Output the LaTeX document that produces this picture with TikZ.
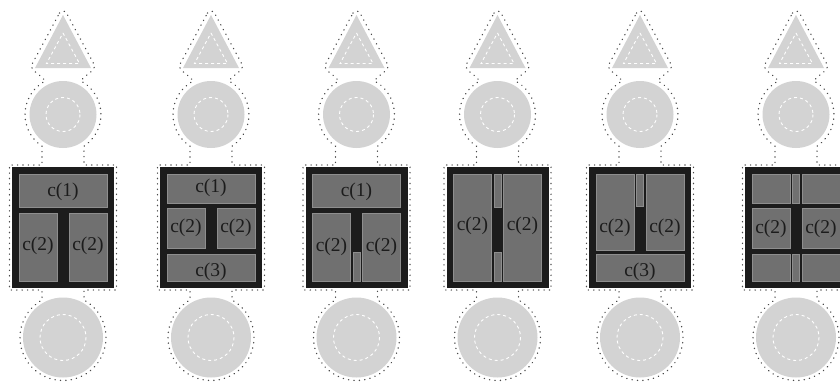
\documentclass[tikz,border=0pt]{standalone}
\usepackage{fontspec}
\setmainfont{Liberation Serif}
\definecolor{shapegray}{HTML}{D3D3D3}
\definecolor{cellgray}{HTML}{707070}
\definecolor{celledge}{HTML}{8E8E8E}
\definecolor{frameblack}{HTML}{1C1C1C}
\definecolor{dotgray}{HTML}{4A4A4A}
\tikzset{
  hull/.style={draw=dotgray, line width=1.4pt, dash pattern=on 0.2pt off 5.2pt, line cap=round},
  ghost/.style={fill=shapegray},
  guide/.style={draw=white, line width=0.9pt, dash pattern=on 3pt off 3pt},
  frame/.style={fill=frameblack},
  cellbox/.style={fill=cellgray, draw=celledge, line width=0.5pt},
  tag/.style={inner sep=0pt, font=\fontsize{19.5}{20}\selectfont, text=frameblack},
}
% one grid cell, given by two corners
\newcommand\gridcell[4]{\path[cellbox] (#1,#2) rectangle (#3,#4);}
% dotted hull, triangle, upper disc and lower disc of one stack
\newcommand\drawstack{%
  \draw[hull] (-3.52,13.1) arc[start angle=-151.7, end angle=-28.3, radius=4]
    -- (32.0,66.1) .. controls (30,73) and (21,75) .. (17.8,81)
    arc[start angle=-62, end angle=56.4, radius=38]
    -- (21,165) -- (53.5,165) -- (53.5,290) -- (21,290) -- (21,299.98)
    arc[start angle=-60.77, end angle=240.77, radius=43]
    -- (-21,290) -- (-53.5,290) -- (-53.5,165) -- (-21,165) -- (-21,146.2)
    arc[start angle=123.6, end angle=242, radius=38]
    .. controls (-21,75) and (-30,73) .. (-32,66.1) -- cycle;
  \path[ghost] (0,15) -- (28,68) -- (-28,68) -- cycle;
  \draw[guide] (0,33) -- (16.5,63.5) -- (-16.5,63.5) -- cycle;
  \path[ghost] (0,114.5) circle (33.5);
  \draw[guide] (0,114.5) circle (17);
  \path[ghost] (0,337.5) circle (40);
  \draw[guide] (0,337.5) circle (23);
  \path[frame] (-51,167) rectangle (51,288);
}
\begin{document}
\begin{tikzpicture}[x=1pt, y=-1pt]
  \useasboundingbox (0,0) rectangle (840,381);
  \clip (0,0) rectangle (840,381);

  % stack 1: one wide cell over two
  \begin{scope}[shift={(63,0)}]
    \drawstack
    \gridcell{-44}{174}{44}{207}
    \gridcell{-44}{213}{-6}{281}
    \gridcell{6}{213}{44}{281}
    \node[tag] (sa1) at (0,192) {c(1)};
    \node[tag] (sa2) at (-25,246) {c(2)};
    \node[tag] (sa3) at (25,246) {c(2)};
  \end{scope}

  % stack 2: three rows
  \begin{scope}[shift={(211,0)}]
    \drawstack
    \gridcell{-44}{174}{44}{203}
    \gridcell{-44}{208}{-6}{248}
    \gridcell{6}{208}{44}{248}
    \gridcell{-44}{254}{44}{281}
    \node[tag] (sb1) at (0,187.5) {c(1)};
    \node[tag] (sb2) at (-25,228) {c(2)};
    \node[tag] (sb3) at (25,228) {c(2)};
    \node[tag] (sb4) at (0,272) {c(3)};
  \end{scope}

  % stack 3: lower strip in the gap
  \begin{scope}[shift={(356.5,0)}]
    \drawstack
    \gridcell{-44}{174}{44}{207}
    \gridcell{-44}{213}{-6}{281}
    \gridcell{6}{213}{44}{281}
    \gridcell{-3.3}{252}{3.3}{281}
    \node[tag] (sc1) at (0,191.5) {c(1)};
    \node[tag] (sc2) at (-25,246.5) {c(2)};
    \node[tag] (sc3) at (25,246.5) {c(2)};
  \end{scope}

  % stack 4: two tall cells, strips above and below
  \begin{scope}[shift={(497.5,0)}]
    \drawstack
    \gridcell{-44}{174}{-6}{281}
    \gridcell{6}{174}{44}{281}
    \gridcell{-3.3}{174}{3.3}{207}
    \gridcell{-3.3}{252}{3.3}{281}
    \node[tag] (sd1) at (-25,225.5) {c(2)};
    \node[tag] (sd2) at (25,225.5) {c(2)};
  \end{scope}

  % stack 5: upper strip, wide cell below
  \begin{scope}[shift={(640,0)}]
    \drawstack
    \gridcell{-44}{174}{-6}{250}
    \gridcell{6}{174}{44}{250}
    \gridcell{-3.3}{174}{3.3}{206}
    \gridcell{-44}{254}{44}{281}
    \node[tag] (se1) at (-25,228) {c(2)};
    \node[tag] (se2) at (25,228) {c(2)};
    \node[tag] (se3) at (0,272) {c(3)};
  \end{scope}

  % stack 6: three by three grid
  \begin{scope}[shift={(796,0)}]
    \drawstack
    \gridcell{-44}{174}{-6}{203}
    \gridcell{6}{174}{44}{203}
    \gridcell{-3.3}{174}{3.3}{203}
    \gridcell{-44}{208}{-6}{248}
    \gridcell{6}{208}{44}{248}
    \gridcell{-44}{254}{-6}{281}
    \gridcell{6}{254}{44}{281}
    \gridcell{-3.3}{254}{3.3}{281}
    \node[tag] (sf1) at (-25,228.5) {c(2)};
    \node[tag] (sf2) at (25,228.5) {c(2)};
  \end{scope}
\end{tikzpicture}
\end{document}
